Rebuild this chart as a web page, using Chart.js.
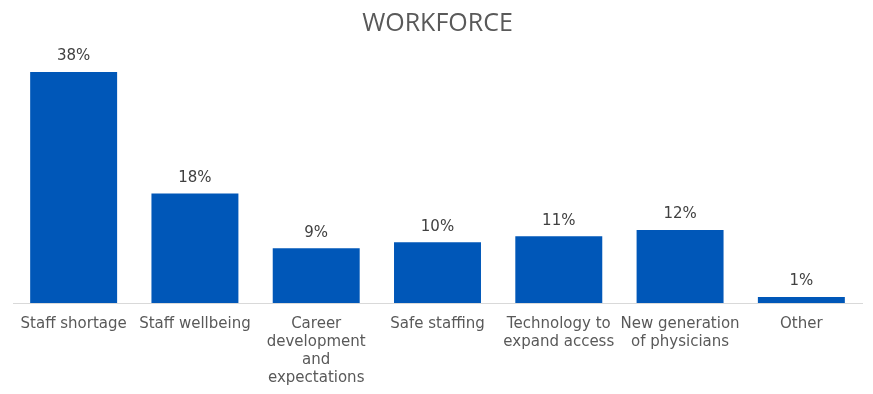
<!DOCTYPE html>
<html>
<head>
<meta charset="utf-8">
<script src="https://cdn.jsdelivr.net/npm/chart.js@4.4.1/dist/chart.umd.min.js"></script>
<style>
  html, body { margin: 0; padding: 0; background: #fff; }
  #wrap { width: 873px; height: 394px; }
</style>
</head>
<body>
<div id="wrap"><canvas id="workforceChart" width="873" height="394"></canvas></div>
<script>
const categories = [
  'Staff shortage',
  'Staff wellbeing',
  ['Career', 'development', 'and', 'expectations'],
  'Safe staffing',
  ['Technology to', 'expand access'],
  ['New generation', 'of physicians'],
  'Other'
];
const shares = [38, 18, 9, 10, 11, 12, 1];

// draws the "38%" labels above each bar
const valueLabels = {
  id: 'valueLabels',
  afterDatasetsDraw(chart) {
    const ctx = chart.ctx;
    const meta = chart.getDatasetMeta(0);
    ctx.save();
    ctx.font = '15px "DejaVu Sans", Verdana, sans-serif';
    ctx.fillStyle = '#404040';
    ctx.textAlign = 'center';
    ctx.textBaseline = 'bottom';
    meta.data.forEach((bar, i) => {
      ctx.fillText(shares[i] + '%', bar.x, bar.y - 8);
    });
    ctx.restore();
  }
};

const ctx = document.getElementById('workforceChart').getContext('2d');
new Chart(ctx, {
  type: 'bar',
  data: {
    labels: categories,
    datasets: [{
      label: 'Workforce',
      data: shares,
      backgroundColor: '#0057B8',
      categoryPercentage: 1,
      barPercentage: 0.717
    }]
  },
  options: {
    responsive: false,
    animation: false,
    layout: {
      padding: { left: 13, right: 11, top: 0, bottom: 0 }
    },
    plugins: {
      legend: { display: false },
      tooltip: { enabled: false },
      title: {
        display: true,
        text: 'WORKFORCE',
        color: '#595959',
        font: { family: '"Open Sans", sans-serif', size: 25, weight: 'normal' },
        padding: { top: 9, bottom: 33 }
      }
    },
    scales: {
      x: {
        grid: { display: false, drawTicks: false },
        border: { display: true, color: '#d9d9d9', width: 1 },
        ticks: {
          color: '#595959',
          font: { family: '"DejaVu Sans", Verdana, sans-serif', size: 15 },
          padding: 12,
          maxRotation: 0,
          autoSkip: false
        },
        afterFit(scale) {
          scale.height = 91;
        }
      },
      y: {
        display: false,
        min: 0,
        max: 38
      }
    }
  },
  plugins: [valueLabels]
});
</script>
</body>
</html>
